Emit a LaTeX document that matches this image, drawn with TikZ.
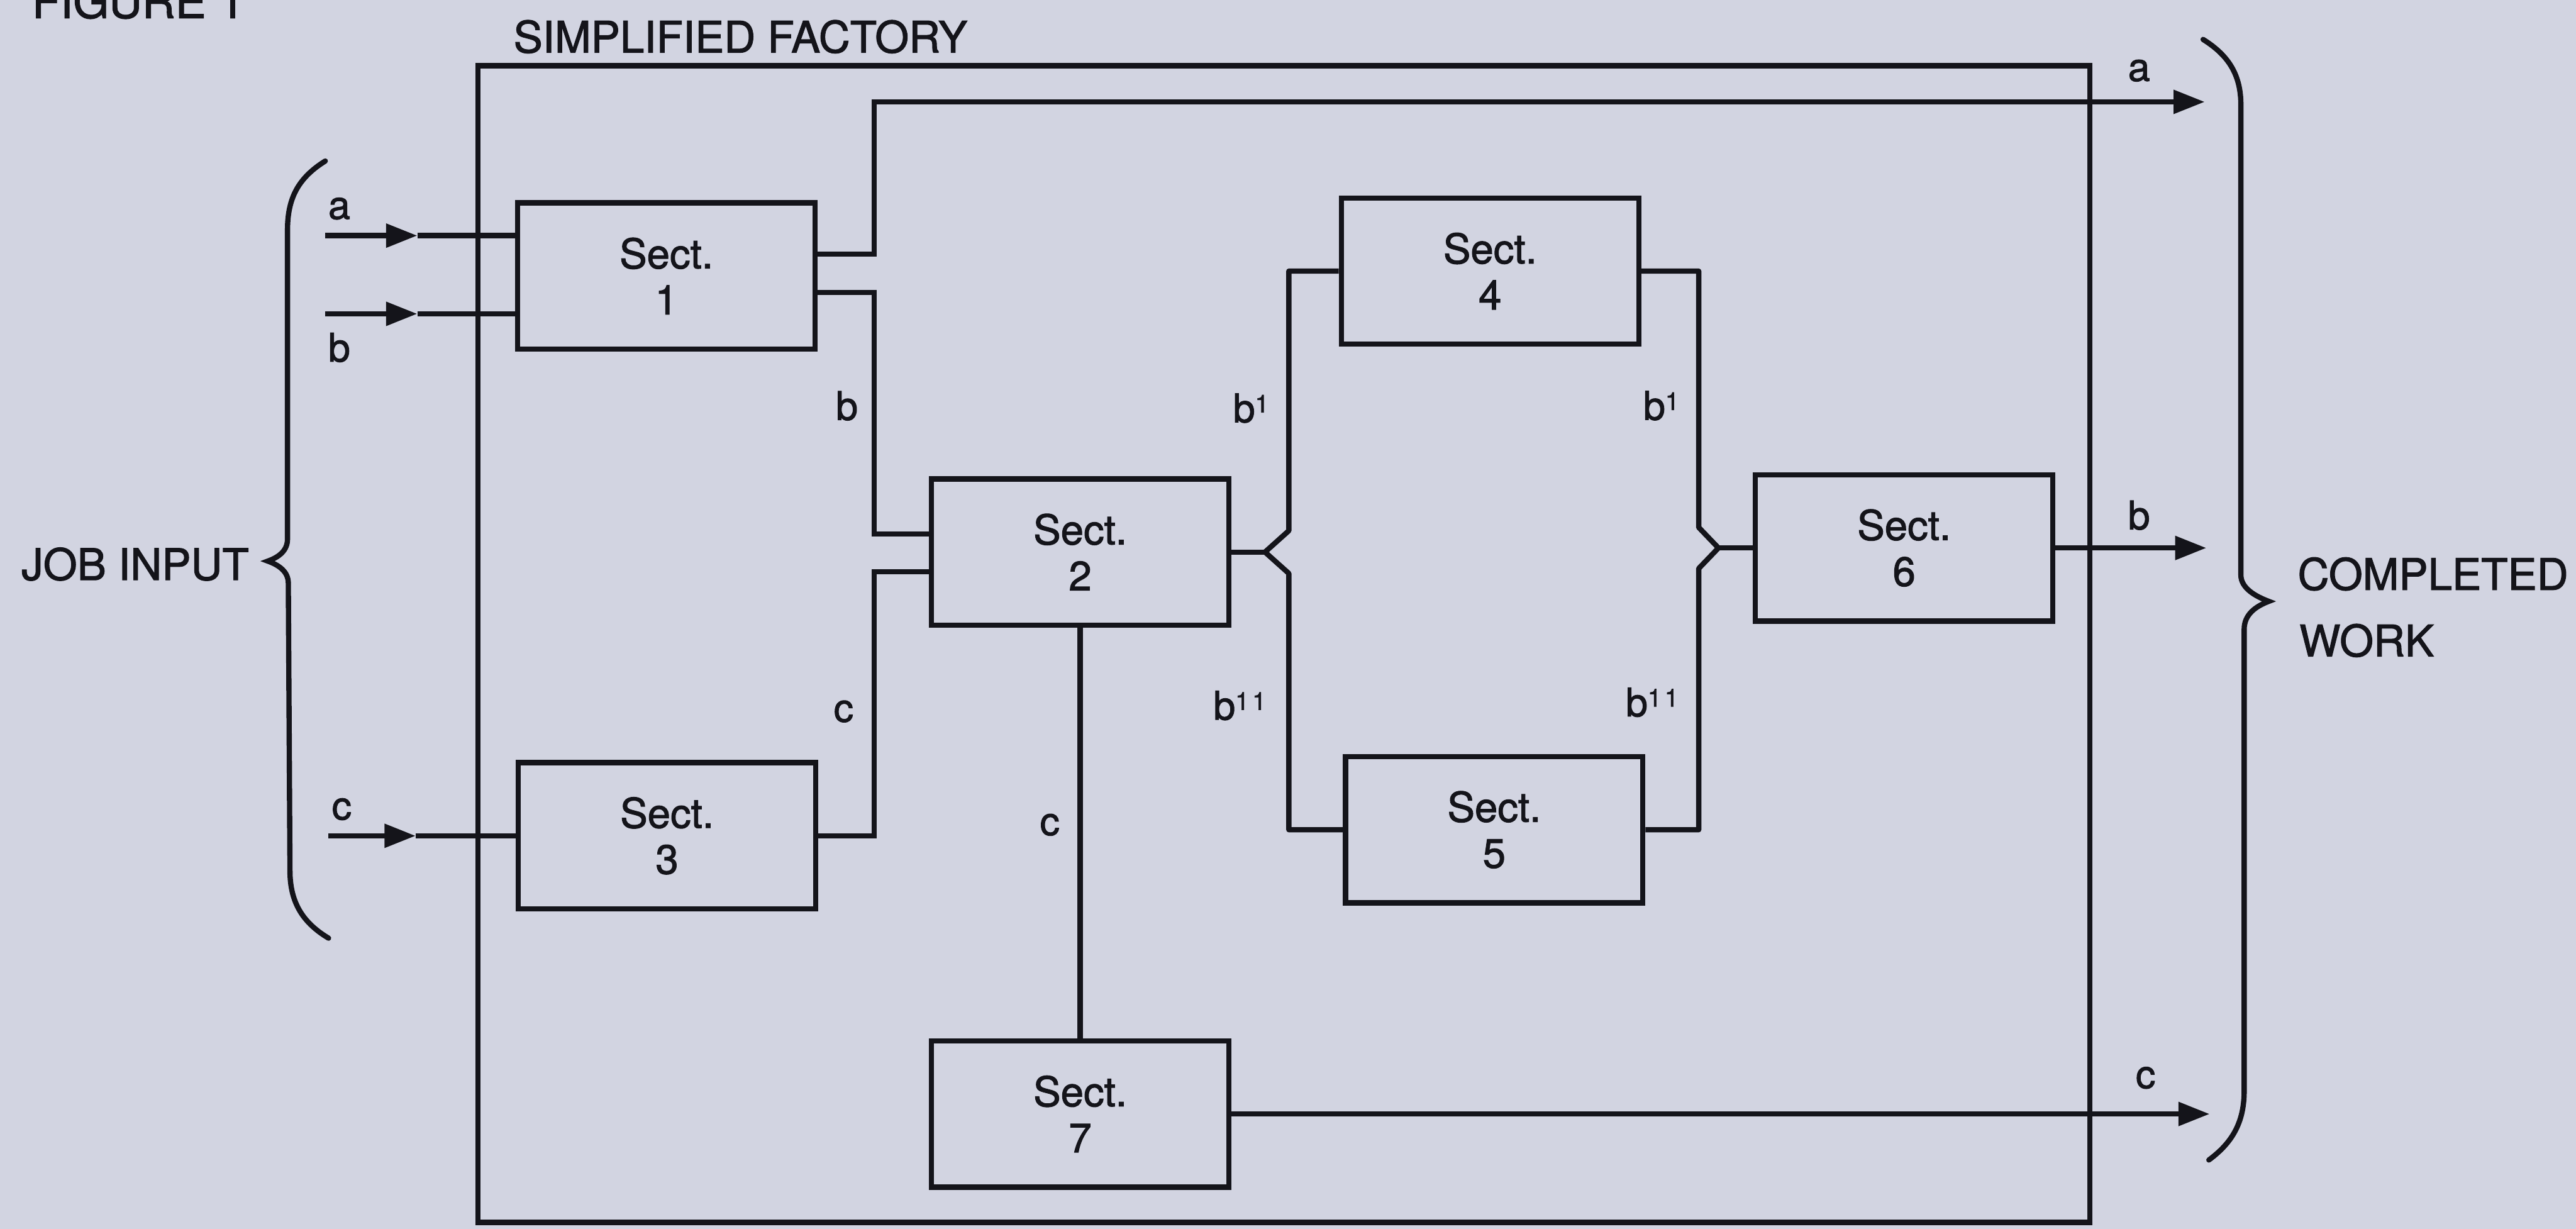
\documentclass[tikz,border=0pt]{standalone}
\usepackage{fontspec}
\setmainfont{TeX Gyre Heros}
\newfontfamily\inkfont{TeX Gyre Heros}[FakeBold=1.6]
\usetikzlibrary{arrows.meta}
\definecolor{paper}{RGB}{210,212,225}
\definecolor{ink}{RGB}{20,20,26}
\begin{document}
\begin{tikzpicture}[x=1pt,y=-1pt,line width=3.2pt,color=ink,
  sect/.style={draw=ink,line width=3.2pt,minimum width=181pt,minimum height=89pt,
    inner sep=0pt,align=center,text=ink,font=\inkfont\fontsize{25}{28}\selectfont},
  lbl/.style={inner sep=0pt,text=ink,font=\inkfont\fontsize{24}{24}\selectfont},
  suplbl/.style={inner sep=0pt,anchor=base west,text=ink,font=\inkfont\fontsize{24}{24}\selectfont},
  titletext/.style={inner sep=0pt,anchor=base west,text=ink,font=\inkfont\fontsize{26.5}{30}\selectfont},
  arr/.style={-{Triangle[length=19pt,width=14pt]}},
  wire/.style={line join=miter}]
\useasboundingbox (0,0) rectangle (1568,748);
\fill[paper] (0,0) rectangle (1568,748);

% factory outline
\node[draw=ink,line width=3.2pt,minimum width=981pt,minimum height=704pt,inner sep=0pt] (factory) at (781.5,392) {};

% titles
\node[titletext,font=\inkfont\fontsize{28}{30}\selectfont] (fig) at (18,11) {FIGURE 1};
\node[titletext] (sf) at (311,32) {SIMPLIFIED FACTORY};
\node[titletext] (ji) at (11.5,353) {JOB INPUT};
\node[titletext] (cw1) at (1397,359) {COMPLETED};
\node[titletext] (cw2) at (1398,399.5) {WORK};

% sections
\node[sect] (S1) at (405.6,168) {Sect.\\1};
\node[sect] (S2) at (657.5,336) {Sect.\\2};
\node[sect] (S3) at (406,508.7) {Sect.\\3};
\node[sect] (S4) at (907,165) {Sect.\\4};
\node[sect] (S5) at (909.5,505) {Sect.\\5};
\node[sect] (S6) at (1159,333.5) {Sect.\\6};
\node[sect] (S7) at (657.5,678) {Sect.\\7};

% input arrows
\coordinate (ain) at (198,143.4); \coordinate (aintip) at (254,143.4);
\coordinate (bin) at (198,191);   \coordinate (bintip) at (254,191);
\coordinate (cin) at (200,508.7); \coordinate (cintip) at (253,508.7);
\draw[arr] (ain) -- (aintip); \draw (aintip) -- (S1.west |- ain);
\draw[arr] (bin) -- (bintip); \draw (bintip) -- (S1.west |- bin);
\draw[arr] (cin) -- (cintip); \draw (cintip) -- (S3.west);

% routes from sections 1 and 3
\coordinate (atip) at (1342,62);
\draw[arr,wire] ([yshift=13.4pt]S1.east) -| (532,62) -- (atip);
\draw[wire] ([yshift=-10pt]S1.east) -| (532,325) -- ([yshift=11pt]S2.west);
\draw[wire] (S3.east) -| (532,348) -- ([yshift=-12pt]S2.west);

% split after section 2
\coordinate (lt) at (770,336);
\draw (S2.east) -- (lt);
\draw[line join=round] (S4.west) -- (784.5,165) -- (784.5,323) -- (lt) -- (784.5,349) -- (784.5,505) -- (S5.west);
\coordinate (rt) at (1046,333.5);
\draw[line join=round] (S4.east) -- (1034,165) -- (1034,321) -- (rt) -- (1034,346) -- (1034,505) -- (S5.east);
\draw (rt) -- (S6.west);

% outputs
\coordinate (btip) at (1343,333.5);
\draw[arr] (S6.east) -- (btip);
\draw (S2.south) -- (S7.north);
\coordinate (ctip) at (1345,678);
\draw[arr] (S7.east) -- (ctip);

% braces
\draw[line cap=round] (198,98) .. controls (182,108) and (175,120) .. (175,140)
  -- (175,328) .. controls (175,335) and (170,339) .. (163,341.5)
  .. controls (170,344) and (175.5,348) .. (175.5,355)
  -- (176.5,530) .. controls (176.5,550) and (185,562) .. (200,571);
\draw[line cap=round] (1341,24) .. controls (1357,34) and (1364,46) .. (1364,64)
  -- (1364,350) .. controls (1364,358) and (1373,363) .. (1381,366)
  .. controls (1373,369) and (1366,374) .. (1366,383)
  -- (1366,664) .. controls (1366,684) and (1358,696) .. (1344.5,706);

% labels
\node[lbl] (la) at (206.5,127) {a};
\node[lbl] (lb) at (206.5,211.5) {b};
\node[lbl] (lc) at (208,492.5) {c};
\node[lbl] (lb2) at (515.5,247) {b};
\node[lbl] (lc2) at (513.5,433) {c};
\node[lbl] (lc3) at (639,502) {c};
\node[lbl] (lao) at (1302,43) {a};
\node[lbl] (lbo) at (1302,313.6) {b};
\node[lbl] (lco) at (1306,656) {c};
\newcommand{\supone}{\raisebox{6pt}{\fontsize{15}{15}\selectfont 1}}
\newcommand{\supeleven}{\raisebox{6pt}{\fontsize{15}{15}\selectfont 1\kern2pt1}}
\node[suplbl] (b1l) at (749,257) {b\supone};
\node[suplbl] (b1r) at (998.7,255.5) {b\supone};
\node[suplbl] (b11l) at (737,438) {b\supeleven};
\node[suplbl] (b11r) at (988,436) {b\supeleven};
\end{tikzpicture}
\end{document}
